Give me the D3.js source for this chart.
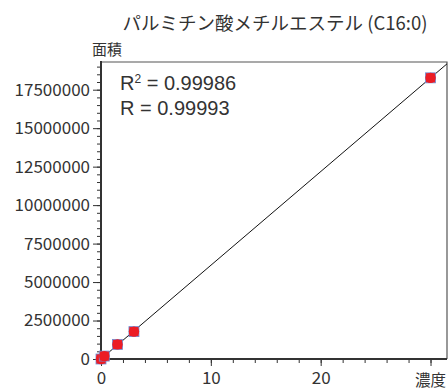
<!DOCTYPE html>
<html>
<head>
<meta charset="utf-8">
<script src="https://cdn.jsdelivr.net/npm/d3@7"></script>
<style>
  body { margin: 0; background: #fff; }
  text { font-family: "Noto Sans CJK JP", "Noto Sans", sans-serif; fill: #333; }
  .axis path, .axis line { stroke: #333; }
  .fit { font-family: "Liberation Sans", Arial, sans-serif; }
</style>
</head>
<body>
<div class="chart"></div>
<script>
var svgWidth = 448;
var svgHeight = 390;

// data
var concentration = [0, 0.3, 1.5, 3, 30];
var area = [0, 190000, 950000, 1780000, 18270000];
var yTicks = [0, 2500000, 5000000, 7500000, 10000000, 12500000, 15000000, 17500000];
var xTicks = [0, 10, 20, 30];
var fitText = ["0.99986", "0.99993"];

var chartTitle = "パルミチン酸メチルエステル (C16:0)";
var yLabel = "面積";
var xLabel = "濃度";

var margin = { top: 62, right: 1, bottom: 31, left: 101 };
var width = svgWidth - margin.left - margin.right;
var height = svgHeight - margin.top - margin.bottom;

var svg = d3.select(".chart")
  .append("svg")
  .attr("width", svgWidth)
  .attr("height", svgHeight);

var chartGroup = svg.append("g")
  .attr("transform", `translate(${margin.left}, ${margin.top})`);

var xScale = d3.scaleLinear().domain([0, 31.5]).range([0, width]);
var yScale = d3.scaleLinear().domain([0, 19300000]).range([height, 0]);

// frame (top and right)
chartGroup.append("path")
  .attr("d", `M0,0H${width}V${height}`)
  .attr("fill", "none")
  .attr("stroke", "#555")
  .attr("stroke-width", 1.2);

// minor ticks
var yMinor = d3.range(0, 19300000, 500000);
chartGroup.append("g")
  .attr("class", "axis")
  .call(d3.axisLeft(yScale).tickValues(yMinor).tickSize(4).tickFormat(""))
  .call(g => g.select(".domain").remove());

var xMinor = d3.range(0, 31.5, 2);
chartGroup.append("g")
  .attr("class", "axis")
  .attr("transform", `translate(0, ${height})`)
  .call(d3.axisBottom(xScale).tickValues(xMinor).tickSize(4).tickFormat(""))
  .call(g => g.select(".domain").remove());

// major axes
var yAxis = chartGroup.append("g")
  .attr("class", "axis")
  .call(d3.axisLeft(yScale).tickValues(yTicks).tickSize(8).tickSizeOuter(0).tickPadding(3).tickFormat(d3.format("d")));
yAxis.selectAll("text").style("font-size", "17px");
yAxis.select(".domain").attr("stroke-width", 2).attr("d", `M0,-1V${height + 2}`);

var xAxis = chartGroup.append("g")
  .attr("class", "axis")
  .attr("transform", `translate(0, ${height})`)
  .call(d3.axisBottom(xScale).tickValues(xTicks).tickSize(7).tickSizeOuter(0).tickPadding(6)
    .tickFormat(d => d === 30 ? "" : d));
xAxis.selectAll("text").style("font-size", "17px");
xAxis.select(".domain").attr("stroke-width", 2).attr("d", `M-1,0H${width}`);

// regression line (least squares)
var mx = d3.mean(concentration), my = d3.mean(area);
var sxy = d3.sum(concentration, (x, i) => (x - mx) * (area[i] - my));
var sxx = d3.sum(concentration, x => (x - mx) * (x - mx));
var slope = sxy / sxx;
var intercept = my - slope * mx;
var xEnd = Math.min(31.5, (19300000 - intercept) / slope);

chartGroup.append("line")
  .attr("x1", xScale(0))
  .attr("y1", yScale(Math.max(0, intercept)))
  .attr("x2", xScale(xEnd))
  .attr("y2", yScale(intercept + slope * xEnd))
  .attr("stroke", "#111")
  .attr("stroke-width", 1);

// points
var pts = chartGroup.selectAll(".pt")
  .data(concentration.map((c, i) => ({ c: c, a: area[i] })))
  .enter()
  .append("g")
  .attr("transform", d => `translate(${xScale(d.c)}, ${yScale(d.a)})`);
pts.append("rect")
  .attr("x", -5).attr("y", -5).attr("width", 10).attr("height", 10)
  .attr("fill", "#e8242c")
  .attr("stroke", "#6f8fd8")
  .attr("stroke-width", 0.8);
pts.append("circle")
  .attr("r", 5.2)
  .attr("fill", "#ec1c24");

// R texts
var fit = chartGroup.append("text")
  .attr("class", "fit")
  .attr("x", 19)
  .attr("y", 28)
  .style("font-size", "20px");
fit.append("tspan").text("R");
fit.append("tspan").attr("dy", -7).style("font-size", "12px").text("2");
fit.append("tspan").attr("dy", 7).text(" = " + fitText[0]);

chartGroup.append("text")
  .attr("class", "fit")
  .attr("x", 19)
  .attr("y", 53)
  .style("font-size", "20px")
  .text("R = " + fitText[1]);

// labels
svg.append("text")
  .attr("x", 275)
  .attr("y", 30)
  .attr("text-anchor", "middle")
  .style("font-size", "18.5px")
  .text(chartTitle);

svg.append("text")
  .attr("x", 92)
  .attr("y", 55)
  .style("font-size", "15px")
  .text(yLabel);

svg.append("text")
  .attr("x", 446)
  .attr("y", 386)
  .attr("text-anchor", "end")
  .style("font-size", "15.5px")
  .text(xLabel);
</script>
</body>
</html>
